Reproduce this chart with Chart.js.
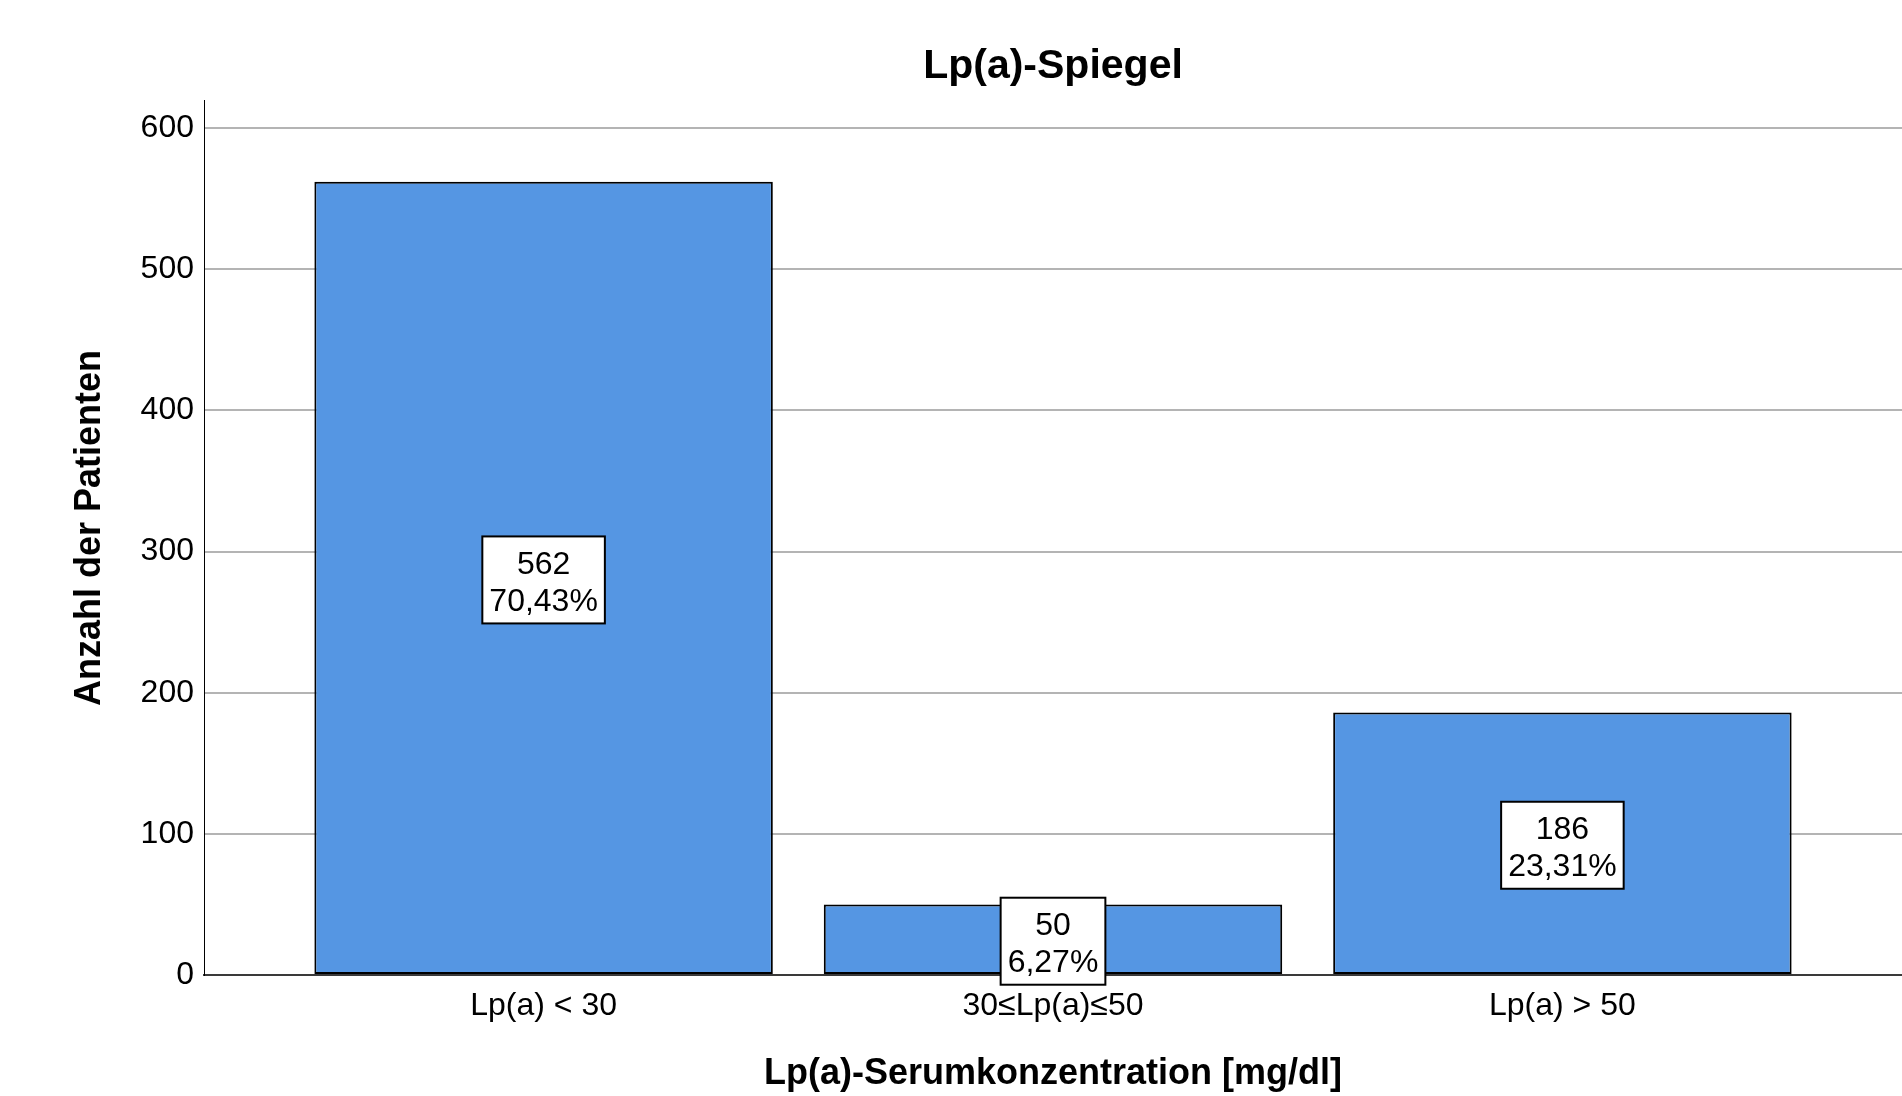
<!DOCTYPE html>
<html>
<head>
<meta charset="utf-8">
<script src="https://cdn.jsdelivr.net/npm/chart.js@4.4.0/dist/chart.umd.min.js"></script>
<style>
  html, body { margin: 0; padding: 0; background: #fff; }
  canvas { display: block; }
</style>
</head>
<body>
<canvas id="lpaChart" width="1902" height="1096"></canvas>
<script>
const categories = ['Lp(a) < 30', '30≤Lp(a)≤50', 'Lp(a) > 50'];
const patientCounts = [562, 50, 186];
const percentLabels = ['70,43%', '6,27%', '23,31%'];
const yTicks = [0, 100, 200, 300, 400, 500, 600];
const yMax = 620;
const chartTitle = 'Lp(a)-Spiegel';
const yTitle = 'Anzahl der Patienten';

const fontFamily = '"Liberation Sans", Arial, sans-serif';

// title over the plot area + y axis title (SPSS puts it a bit above the middle)
const titlePlugin = {
  id: 'plotTitle',
  afterDraw(chart) {
    const ctx = chart.ctx;
    const area = chart.chartArea;
    ctx.save();
    ctx.font = 'bold 41px ' + fontFamily;
    ctx.fillStyle = '#000';
    ctx.textAlign = 'center';
    ctx.textBaseline = 'middle';
    ctx.fillText(chartTitle, (area.left + area.right) / 2, 67);

    ctx.font = 'bold 36px ' + fontFamily;
    ctx.translate(90, 528);
    ctx.rotate(-Math.PI / 2);
    ctx.fillText(yTitle, 0, 0);
    ctx.restore();
  }
};

// white boxes with count + percent in the middle of each bar
const boxLabels = {
  id: 'boxLabels',
  afterDatasetsDraw(chart) {
    const ctx = chart.ctx;
    const bars = chart.getDatasetMeta(0).data;
    ctx.save();
    ctx.font = '32px ' + fontFamily;
    ctx.textAlign = 'center';
    ctx.textBaseline = 'alphabetic';
    bars.forEach((bar, i) => {
      const line1 = String(patientCounts[i]);
      const line2 = percentLabels[i];
      const w = Math.max(ctx.measureText(line1).width, ctx.measureText(line2).width) + 14;
      const h = 87;
      const cx = bar.x;
      const cy = (bar.y + bar.base) / 2 + 2;
      ctx.fillStyle = '#fff';
      ctx.fillRect(cx - w / 2, cy - h / 2, w, h);
      ctx.lineWidth = 2;
      ctx.strokeStyle = '#000';
      ctx.strokeRect(cx - w / 2, cy - h / 2, w, h);
      ctx.fillStyle = '#000';
      ctx.fillText(line1, cx, cy - 6);
      ctx.fillText(line2, cx, cy + 31);
    });
    ctx.restore();
  }
};

new Chart(document.getElementById('lpaChart'), {
  type: 'bar',
  data: {
    datasets: [{
      data: patientCounts.map((v, i) => ({ x: i, y: v })),
      backgroundColor: '#5596e3',
      borderColor: '#000',
      borderWidth: 2,
      borderSkipped: false,
      barPercentage: 0.9,
      categoryPercentage: 1.0
    }]
  },
  options: {
    responsive: false,
    animation: false,
    layout: { padding: { top: 100, left: 0, right: 0, bottom: 0 } },
    plugins: {
      legend: { display: false },
      tooltip: { enabled: false },
      title: { display: false }
    },
    scales: {
      x: {
        type: 'linear',
        offset: false,
        min: -2 / 3,
        max: 8 / 3,
        grid: { display: false, drawTicks: false, offset: false },
        border: { display: true, color: '#3a3a3a', width: 2 },
        afterBuildTicks: s => { s.ticks = categories.map((c, i) => ({ value: i })); },
        afterFit: s => { s.height = 121; },
        ticks: {
          color: '#000',
          font: { family: fontFamily, size: 32 },
          padding: 12,
          maxRotation: 0,
          autoSkip: false,
          callback: v => categories[v]
        },
        title: {
          display: true,
          text: 'Lp(a)-Serumkonzentration [mg/dl]',
          color: '#000',
          font: { family: fontFamily, size: 36, weight: 'bold', lineHeight: 1.2 },
          padding: { top: 0, bottom: 0 }
        }
      },
      y: {
        min: 0,
        max: yMax,
        afterBuildTicks: s => { s.ticks = yTicks.map(v => ({ value: v })); },
        afterFit: s => { s.width = 204; },
        grid: { color: '#b4b4b4', lineWidth: 2, drawTicks: false },
        border: { display: true, color: '#000', width: 1 },
        ticks: { color: '#000', font: { family: fontFamily, size: 32 }, padding: 10 },
        title: { display: false }
      }
    }
  },
  plugins: [boxLabels, titlePlugin]
});
</script>
</body>
</html>
